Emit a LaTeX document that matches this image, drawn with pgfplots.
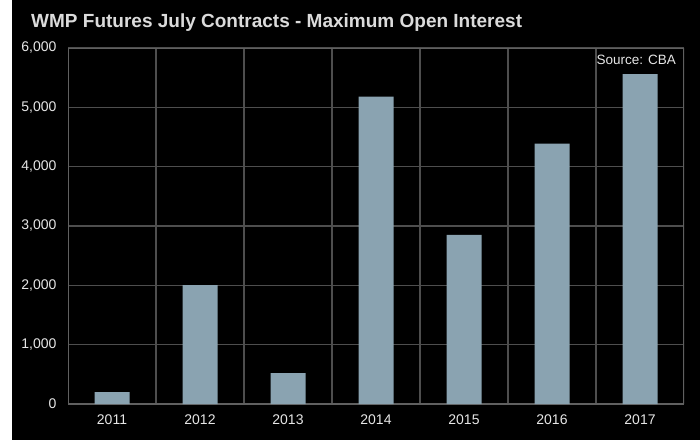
\documentclass[border=0pt]{standalone}
\usepackage{pgfplots}
\pgfplotsset{compat=1.18}
\usepackage{fontspec}
\setmainfont{Liberation Sans}
\definecolor{barcol}{RGB}{138,163,177}
\definecolor{gridcol}{RGB}{78,78,78}
\definecolor{axcol}{RGB}{96,96,96}
\definecolor{txtcol}{RGB}{230,230,230}
\begin{document}
\begin{tikzpicture}[x=1pt,y=1pt]
\useasboundingbox (0,0) rectangle (700,440);
\fill[black] (12,0) rectangle (700,440);
\node[anchor=base west, inner sep=0, text=txtcol!95!black, font=\fontsize{19}{22}\selectfont\bfseries]
  at (31,412.7) {WMP Futures July Contracts - Maximum Open Interest};
\begin{axis}[
  at={(68pt,36pt)}, anchor=south west,
  scale only axis, width=616pt, height=356pt,
  xmin=-0.5, xmax=6.5, ymin=0, ymax=6000,
  xtick=data, xticklabels={2011,2012,2013,2014,2015,2016,2017},
  minor xtick={0.5,1.5,2.5,3.5,4.5,5.5},
  ytick={0,1000,2000,3000,4000,5000,6000},
  xminorgrids=true, ymajorgrids=true,
  grid style={gridcol, line width=1.2pt},
  minor grid style={gridcol, line width=1.2pt},
  major tick length=0pt, minor tick length=0pt,
  axis x line*=bottom, axis y line*=left,
  separate axis lines,
  y axis line style={draw=none},
  x axis line style={axcol, line width=1.5pt},
  tick label style={text=txtcol, font=\fontsize{14}{16}\selectfont},
  xticklabel style={yshift=-7pt},
  yticklabel style={xshift=-8pt},
  /pgf/number format/.cd, 1000 sep={,}, assume math mode=true,
]
\addplot[ybar, bar width=35pt, fill=barcol, draw=none] coordinates {
  (0,200) (1,2005) (2,520) (3,5180) (4,2850) (5,4390) (6,5560)
};
\draw[axcol, line width=1.5pt] (rel axis cs:0,0) -- (rel axis cs:0,1) -- (rel axis cs:1,1) -- (rel axis cs:1,0);
\node[anchor=north east, inner sep=0, text=txtcol, font=\fontsize{13.5}{16}\selectfont]
  at (rel axis cs:1,1) [xshift=-8pt, yshift=-7pt] {Source: CBA};
\end{axis}
\end{tikzpicture}
\end{document}
